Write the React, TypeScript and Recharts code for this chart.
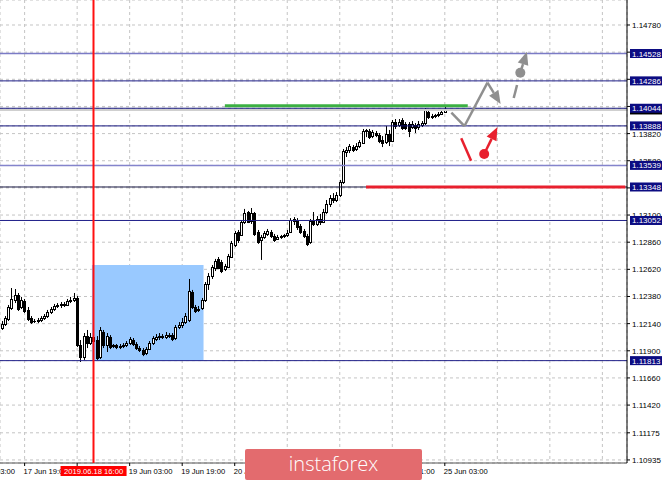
import React from 'react';
import { ComposedChart, Bar, XAxis, YAxis, CartesianGrid, ReferenceLine, ReferenceArea, ReferenceDot } from 'recharts';

// H1 candles, 17 Jun 12:00 .. 25 Jun 03:00
const opens = [
  1.12101, 1.12137, 1.12181, 1.12278, 1.12349, 1.12393, 1.12287, 1.12340, 1.12261, 1.12190,
  1.12163, 1.12163, 1.12172, 1.12190, 1.12207, 1.12243, 1.12269, 1.12296, 1.12305, 1.12314,
  1.12305, 1.12340, 1.12349, 1.12367, 1.11951, 1.11845, 1.12030, 1.11968, 1.12022, 1.11995,
  1.11845, 1.12066, 1.11951, 1.12022, 1.11942, 1.11951, 1.11933, 1.11942, 1.11951, 1.11968,
  1.11995, 1.11960, 1.11924, 1.11907, 1.11880, 1.11915, 1.11968, 1.12004, 1.12022, 1.12030,
  1.12022, 1.12039, 1.12039, 1.12013, 1.12110, 1.12128, 1.12154, 1.12172, 1.12420, 1.12287,
  1.12261, 1.12278, 1.12349, 1.12491, 1.12561, 1.12631, 1.12712, 1.12685, 1.12623, 1.12640,
  1.12729, 1.12835, 1.12950, 1.12924, 1.13038, 1.13127, 1.13047, 1.13118, 1.12950, 1.12880,
  1.12906, 1.12933, 1.12950, 1.12915, 1.12889, 1.12906, 1.12915, 1.12924, 1.12950, 1.13047,
  1.13056, 1.13003, 1.12959, 1.12915, 1.12862, 1.13047, 1.13021, 1.13065, 1.13038, 1.13127,
  1.13198, 1.13250, 1.13233, 1.13277, 1.13392, 1.13657, 1.13675, 1.13701, 1.13684, 1.13710,
  1.13736, 1.13843, 1.13843, 1.13798, 1.13825, 1.13807, 1.13763, 1.13745, 1.13817, 1.13754,
  1.13922, 1.13896, 1.13940, 1.13905, 1.13905, 1.13878, 1.13896, 1.13878, 1.13896, 1.13913,
  1.14011, 1.13966, 1.13975, 1.13984, 1.13994, 1.14011,
];
const highs = [
  1.12163, 1.12207, 1.12305, 1.12455, 1.12446, 1.12411, 1.12376, 1.12358, 1.12287, 1.12207,
  1.12181, 1.12190, 1.12207, 1.12225, 1.12261, 1.12287, 1.12314, 1.12322, 1.12331, 1.12331,
  1.12358, 1.12376, 1.12411, 1.12384, 1.11995, 1.12057, 1.12084, 1.12057, 1.12084, 1.12030,
  1.12110, 1.12084, 1.12057, 1.12039, 1.11960, 1.11960, 1.11960, 1.11968, 1.11986, 1.12022,
  1.12013, 1.11977, 1.11942, 1.11924, 1.11933, 1.11986, 1.12030, 1.12048, 1.12057, 1.12048,
  1.12066, 1.12057, 1.12057, 1.12128, 1.12154, 1.12190, 1.12234, 1.12535, 1.12438, 1.12305,
  1.12296, 1.12367, 1.12508, 1.12587, 1.12658, 1.12712, 1.12729, 1.12703, 1.12668, 1.12756,
  1.12871, 1.12959, 1.12968, 1.13056, 1.13154, 1.13136, 1.13162, 1.13127, 1.12968, 1.12924,
  1.12959, 1.12977, 1.12968, 1.12933, 1.12924, 1.12924, 1.12933, 1.12968, 1.13073, 1.13082,
  1.13073, 1.13021, 1.12977, 1.12933, 1.13065, 1.13127, 1.13091, 1.13110, 1.13154, 1.13233,
  1.13277, 1.13294, 1.13303, 1.13410, 1.13684, 1.13701, 1.13728, 1.13719, 1.13736, 1.13763,
  1.13861, 1.13861, 1.13861, 1.13852, 1.13843, 1.13825, 1.13798, 1.13887, 1.13852, 1.13940,
  1.13949, 1.13949, 1.13957, 1.13922, 1.13922, 1.13931, 1.13913, 1.13931, 1.13931, 1.14046,
  1.14029, 1.13994, 1.13994, 1.14011, 1.14020, 1.14055,
];
const lows = [
  1.12084, 1.12119, 1.12163, 1.12261, 1.12322, 1.12252, 1.12269, 1.12234, 1.12163, 1.12137,
  1.12145, 1.12145, 1.12154, 1.12172, 1.12190, 1.12225, 1.12252, 1.12278, 1.12278, 1.12287,
  1.12296, 1.12322, 1.12331, 1.11933, 1.11801, 1.11819, 1.11924, 1.11951, 1.11933, 1.11819,
  1.11827, 1.11924, 1.11889, 1.11915, 1.11924, 1.11915, 1.11915, 1.11924, 1.11933, 1.11951,
  1.11942, 1.11907, 1.11889, 1.11853, 1.11862, 1.11907, 1.11951, 1.11986, 1.11995, 1.12004,
  1.12004, 1.12013, 1.11986, 1.11995, 1.12092, 1.12101, 1.12137, 1.12154, 1.12269, 1.12234,
  1.12243, 1.12261, 1.12331, 1.12438, 1.12535, 1.12605, 1.12623, 1.12587, 1.12605, 1.12631,
  1.12720, 1.12817, 1.12853, 1.12915, 1.13021, 1.13029, 1.13021, 1.12915, 1.12845, 1.12703,
  1.12889, 1.12915, 1.12897, 1.12862, 1.12880, 1.12889, 1.12897, 1.12906, 1.12941, 1.13012,
  1.12968, 1.12933, 1.12897, 1.12826, 1.12845, 1.13003, 1.13003, 1.13012, 1.13029, 1.13110,
  1.13171, 1.13206, 1.13215, 1.13259, 1.13375, 1.13613, 1.13648, 1.13657, 1.13666, 1.13692,
  1.13728, 1.13789, 1.13772, 1.13780, 1.13789, 1.13736, 1.13701, 1.13728, 1.13710, 1.13745,
  1.13861, 1.13878, 1.13852, 1.13852, 1.13789, 1.13861, 1.13825, 1.13852, 1.13878, 1.13896,
  1.13949, 1.13949, 1.13957, 1.13966, 1.13984, 1.14002,
];
const closes = [
  1.12137, 1.12190, 1.12287, 1.12358, 1.12393, 1.12269, 1.12349, 1.12252, 1.12181, 1.12154,
  1.12163, 1.12172, 1.12190, 1.12207, 1.12243, 1.12269, 1.12296, 1.12305, 1.12314, 1.12305,
  1.12340, 1.12349, 1.12367, 1.11951, 1.11845, 1.12030, 1.11968, 1.12022, 1.11986, 1.11836,
  1.12084, 1.11951, 1.12030, 1.11933, 1.11951, 1.11933, 1.11942, 1.11951, 1.11968, 1.12004,
  1.11960, 1.11924, 1.11907, 1.11871, 1.11915, 1.11968, 1.12013, 1.12022, 1.12030, 1.12022,
  1.12039, 1.12030, 1.12004, 1.12110, 1.12128, 1.12154, 1.12207, 1.12429, 1.12287, 1.12252,
  1.12269, 1.12349, 1.12491, 1.12561, 1.12640, 1.12694, 1.12631, 1.12605, 1.12649, 1.12738,
  1.12853, 1.12941, 1.12880, 1.13038, 1.13118, 1.13038, 1.13118, 1.12933, 1.12862, 1.12906,
  1.12941, 1.12959, 1.12915, 1.12880, 1.12906, 1.12915, 1.12924, 1.12941, 1.13056, 1.13065,
  1.12994, 1.12950, 1.12915, 1.12845, 1.13047, 1.13021, 1.13065, 1.13038, 1.13127, 1.13198,
  1.13250, 1.13233, 1.13277, 1.13392, 1.13666, 1.13675, 1.13710, 1.13675, 1.13710, 1.13745,
  1.13843, 1.13852, 1.13789, 1.13834, 1.13807, 1.13754, 1.13736, 1.13817, 1.13754, 1.13922,
  1.13887, 1.13922, 1.13869, 1.13869, 1.13843, 1.13905, 1.13869, 1.13905, 1.13913, 1.14029,
  1.13966, 1.13975, 1.13984, 1.13994, 1.14011, 1.14029,
];

const SLOTS = 191; // hourly slots across the visible window, incl. empty future space
const timeTicks = [7, 23, 39, 55, 71, 87, 103, 119, 135, 151, 167, 183];
// 18 Jun 11:00 sits under the cursor label, so it gets a tick mark only
const timeLabels = ['17 Jun 19:00', '', '19 Jun 03:00', '19 Jun 19:00', '20 Jun 11:00', '21 Jun 03:00',
  '21 Jun 19:00', '24 Jun 11:00', '25 Jun 03:00', '', '', ''];
const firstLabel = '17 Jun 03:00';
const cursorSlot = 28;
const cursorLabel = '2019.06.18 16:00';

const priceTicks = [1.1478, 1.1454, 1.143, 1.1406, 1.1382, 1.1358, 1.1334, 1.131, 1.1286, 1.1262,
  1.1238, 1.1214, 1.119, 1.1166, 1.1142, 1.11175, 1.10935];
const levels = [1.14528, 1.14286, 1.14044, 1.13888, 1.13539, 1.13348, 1.13052, 1.11813];
const levelColors = ['#7b7bc6', '#20208a', '#14147e', '#14147e', '#8484cc', '#1a1a44', '#20208a', '#20208a'];
const bid = closes[closes.length - 1];

// blue zone
const zoneSlots = [28, 61];
const zonePrices = [1.11813, 1.12658];
// green and red marks
const greenSlots = [68, 142];
const greenPrice = 1.14066;
const redSlots = [111, 190];
const redPrice = 1.13348;
// gray forecast path
const grayPath = [
  { x: 137, y: 1.14005 },
  { x: 141, y: 1.13887 },
  { x: 148, y: 1.1427 },
  { x: 152, y: 1.14082 },
];
const grayDash = [{ x: 156, y: 1.14135 }, { x: 157, y: 1.1425 }];
const grayDot = { x: 158, y: 1.14358 };
const grayTip = { x: 160, y: 1.14544 };
// red alternative
const redStroke = [{ x: 140, y: 1.13778 }, { x: 143, y: 1.1358 }];
const redDot = { x: 147, y: 1.1364 };
const redTip = { x: 151, y: 1.13876 };

const rows = Array.from({ length: SLOTS }, (_, i) =>
  i < opens.length
    ? { i, o: opens[i], h: highs[i], l: lows[i], c: closes[i], range: [lows[i], highs[i]] }
    : { i });

const FONT = '"Liberation Sans", Arial, sans-serif';
const SLOT_PX = 627 / SLOTS;
const PLOT_H = 463;

const Candle = (props: any) => {
  const { x, y, width, height, payload } = props;
  if (!payload || payload.o == null) return null;
  const { o, h, l, c } = payload;
  const top = Math.min(y, y + height);
  const bot = Math.max(y, y + height);
  const py = (v: number) => (h === l ? top : top + ((h - v) / (h - l)) * (bot - top));
  const cx = Math.round(x + width / 2) + 0.5;
  const bTop = Math.round(py(Math.max(o, c))) + 0.5;
  const bBot = Math.round(py(Math.min(o, c))) + 0.5;
  const bear = c < o;
  return (
    <g>
      <line x1={cx} x2={cx} y1={top} y2={bot} stroke="#000" strokeWidth={1} />
      <rect x={cx - 1} y={bTop} width={2} height={Math.max(bBot - bTop, 0.01)}
        fill={bear ? '#000' : '#fff'} stroke="#000" strokeWidth={1} />
    </g>
  );
};

const XTick = (props: any) => {
  const { x, y, payload } = props;
  const v = payload.value;
  if (v === cursorSlot) {
    const left = Math.floor(x) - 0.5;
    return (
      <g>
        <rect x={left} y={y - PLOT_H} width={2} height={PLOT_H} fill="#ff1010" />
        <rect x={x - 33} y={y + 3} width={66} height={10} fill="#ff0000" />
        <text x={x} y={y + 11} textAnchor="middle" fontSize={7.6} fontFamily={FONT} fill="#fff">{cursorLabel}</text>
      </g>
    );
  }
  const idx = timeTicks.indexOf(v);
  const label = timeLabels[idx];
  if (idx > 8) return null;
  return (
    <g>
      <line x1={x} x2={x} y1={y} y2={y + 3} stroke="#000" />
      {label && <text x={x - 1} y={y + 11} fontSize={7.6} fontFamily={FONT} fill="#000">{label}</text>}
      {idx === 0 && (
        <text x={x - 16 * SLOT_PX - 1} y={y + 11} fontSize={7.6} fontFamily={FONT} fill="#000">{firstLabel}</text>
      )}
    </g>
  );
};

const YTick = (props: any) => {
  const { x, y, payload } = props;
  const v = payload.value;
  const li = levels.indexOf(v);
  const isBid = li < 0 && v === bid && !priceTicks.includes(v);
  if (isBid) {
    // bid marker mostly hidden behind the 1.14044 box
    return <rect x={x + 3} y={y - 4.5} width={32} height={9} fill="#000" />;
  }
  if (li >= 0) {
    return (
      <g>
        <rect x={x + 3} y={y - 4.5} width={32} height={9} fill="#0c0c82" />
        <text x={x + 5} y={y + 3} fontSize={8} fontFamily={FONT} fill="#fff">{v.toFixed(5)}</text>
      </g>
    );
  }
  // grid labels sitting right under a level box stay hidden, as on the terminal
  const covered = levels.some((lv) => Math.abs(lv - v) < 0.0003);
  return (
    <g>
      <line x1={x} x2={x + 3} y1={y} y2={y} stroke="#000" />
      {!covered && <text x={x + 5} y={y + 3} fontSize={8} fontFamily={FONT} fill="#000">{v.toFixed(5)}</text>}
    </g>
  );
};

const arrow = (color: string, w: number, head: boolean) => (p: any) => {
  const { x1, y1, x2, y2 } = p;
  if (!head) {
    return <line x1={x1} y1={y1} x2={x2} y2={y2} stroke={color} strokeWidth={w} />;
  }
  const a = Math.atan2(y2 - y1, x2 - x1);
  const len = 13;
  const hw = 5.5;
  const bx = x2 - len * Math.cos(a);
  const by = y2 - len * Math.sin(a);
  const px = -Math.sin(a) * hw;
  const py = Math.cos(a) * hw;
  return (
    <g>
      <line x1={x1} y1={y1} x2={bx} y2={by} stroke={color} strokeWidth={w} />
      <polygon points={`${x2},${y2} ${bx + px},${by + py} ${bx - px},${by - py}`} fill={color} />
    </g>
  );
};

const GRAY = '#8f8f8f';
const RED = '#e8202e';

export default function App() {
  const yTicks = [...priceTicks, bid, ...levels];
  return (
    <div style={{ position: 'absolute', left: 0, top: 0, width: 665, height: 480, background: '#fff', overflow: 'hidden' }}>
      <ComposedChart width={665} height={480} data={rows} margin={{ top: 0, right: 0, bottom: 0, left: 0 }} barCategoryGap={0}>
        <CartesianGrid stroke="#c4c4c4" strokeDasharray="3 3" />
        <ReferenceArea x1={zoneSlots[0]} x2={zoneSlots[1]} y1={zonePrices[0]} y2={zonePrices[1]}
          fill="#99c9ff" fillOpacity={1} stroke="none" />
        <ReferenceLine y={bid} stroke="#cfcfcf" strokeWidth={2} />
        {levels.map((lv, k) => (
          <ReferenceLine key={lv} y={lv} stroke={levelColors[k]} strokeWidth={k === 0 || k === 4 ? 1.5 : 1} />
        ))}
        <ReferenceLine segment={[{ x: greenSlots[0], y: greenPrice }, { x: greenSlots[1], y: greenPrice }]}
          stroke="#3cb043" strokeWidth={3} />
        <ReferenceLine segment={[{ x: redSlots[0], y: redPrice }, { x: redSlots[1], y: redPrice }]}
          stroke={RED} strokeWidth={3} />
        <Bar dataKey="range" shape={Candle} isAnimationActive={false} />
        <ReferenceLine segment={[grayPath[0], grayPath[1]]} shape={arrow(GRAY, 2.5, false)} />
        <ReferenceLine segment={[grayPath[1], grayPath[2]]} shape={arrow(GRAY, 2.5, false)} />
        <ReferenceLine segment={[grayPath[2], grayPath[3]]} shape={arrow(GRAY, 2.5, true)} />
        <ReferenceLine segment={[grayDash[0], grayDash[1]]} shape={arrow(GRAY, 2.5, false)} />
        <ReferenceDot x={grayDot.x} y={grayDot.y} r={5} fill={GRAY} stroke="none" />
        <ReferenceLine segment={[grayDot, grayTip]} shape={arrow(GRAY, 2.5, true)} />
        <ReferenceLine segment={[redStroke[0], redStroke[1]]} shape={arrow(RED, 2.5, false)} />
        <ReferenceDot x={redDot.x} y={redDot.y} r={5} fill={RED} stroke="none" />
        <ReferenceLine segment={[redDot, redTip]} shape={arrow(RED, 2.5, true)} />
        <XAxis dataKey="i" type="category" ticks={[...timeTicks, cursorSlot]} interval={0} height={17}
          tick={<XTick />} tickLine={false} tickSize={0} tickMargin={0} axisLine={{ stroke: '#555' }} />
        <YAxis orientation="right" type="number" domain={[1.10908, 1.15001]} allowDataOverflow width={38}
          ticks={yTicks} interval={0} tick={<YTick />} tickLine={false} tickSize={0} tickMargin={0}
          axisLine={{ stroke: '#000' }} />
      </ComposedChart>
      <div style={{
        position: 'absolute', left: 245, top: 449, width: 177, height: 31, background: '#e36b6e',
        color: '#fff', fontFamily: '"Open Sans", sans-serif', fontWeight: 300, fontSize: 20,
        lineHeight: '30px', textAlign: 'center', borderRadius: 2,
      }}>instaforex</div>
    </div>
  );
}
